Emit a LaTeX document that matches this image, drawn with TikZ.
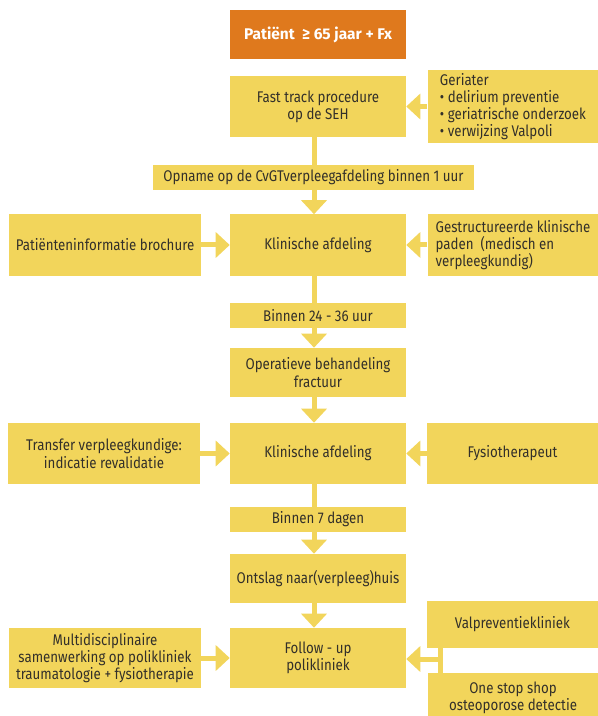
\documentclass[tikz,border=0pt]{standalone}
\usepackage{fontspec}
\setmainfont{Fira Sans}[FakeStretch=0.86]
\newfontfamily\headfont{Fira Sans}
\usetikzlibrary{arrows.meta}
\definecolor{boxyellow}{HTML}{F2D55B}
\definecolor{boxorange}{HTML}{DF791D}
\definecolor{ink}{HTML}{33302A}

\begin{document}
\begin{tikzpicture}[x=0.75pt, y=-0.75pt,
    box/.style={fill=boxyellow, text=ink, align=center, inner sep=0pt, font=\fontsize{11.6}{12.9}\selectfont},
    mainbox/.style={box, minimum width=132pt},
    leftbox/.style={box, minimum width=144pt},
    rightbox/.style={box, minimum width=128pt},
    flow/.style={boxyellow, line width=3.75pt},
    flowto/.style={flow, -{Triangle[width=18.75pt, length=10.5pt]}}]
    % Zorgpad heupfractuur bij ouderen
    \useasboundingbox (0,0) rectangle (598,716);
    \coordinate (spine) at (314,0);
    \node[mainbox, fill=boxorange, text=white, font=\headfont\bfseries\fontsize{11.6}{12.9}\selectfont, minimum height=36.75pt] (pat) at (318,34.5) {Patiënt\ \ ≥ 65 jaar + Fx};
    \node[mainbox, minimum height=45.75pt] (fast) at (318,106.5) {Fast track procedure\\op de SEH};
    \node[rightbox, align=left, minimum height=54.75pt] (ger) at (513,106.5) {Geriater\\• delirium preventie\\• geriatrische onderzoek\\• verwijzing Valpoli};
    \node[box, minimum width=240.75pt, minimum height=18.75pt] (opn) at (313.5,177.5) {Opname op de CvGTverpleegafdeling binnen 1 uur};
    \node[mainbox, minimum height=45.75pt] (kl1) at (318,245) {Klinische afdeling};
    \node[leftbox, minimum height=45.75pt] (info) at (105,245) {Patiënteninformatie brochure};
    \node[rightbox, align=left, minimum height=45.75pt] (gestr) at (513,245) {Gestructureerde klinische\\paden~ (medisch en\\verpleegkundig)};
    \node[mainbox, minimum height=18.75pt] (b24) at (318,315.5) {Binnen 24 - 36 uur};
    \node[mainbox, minimum height=36.75pt] (oper) at (318,372.5) {Operatieve behandeling\\fractuur};
    \node[mainbox, minimum height=45.75pt] (kl2) at (318,453.5) {Klinische afdeling};
    \node[leftbox, minimum height=45.75pt] (trans) at (104,453.5) {Transfer verpleegkundige:\\indicatie revalidatie};
    \node[rightbox, minimum height=45.75pt] (fys) at (512.5,453.5) {Fysiotherapeut};
    \node[mainbox, minimum height=18.75pt] (b7) at (318,519.5) {Binnen 7 dagen};
    \node[mainbox, minimum height=36.75pt] (ont) at (318,578.5) {Ontslag naar(verpleeg)huis};
    \node[mainbox, minimum height=45pt] (fol) at (318,658) {Follow - up\\polikliniek};
    \node[leftbox, minimum height=45pt] (multi) at (105,658) {Multidisciplinaire\\samenwerking op polikliniek\\traumatologie + fysiotherapie};
    \node[rightbox, minimum height=35.25pt] (valp) at (512.5,624.5) {Valpreventiekliniek};
    \node[rightbox, minimum height=36.75pt] (one) at (513,697.5) {One stop shop\\osteoporose detectie};
    % doorlopende lijn langs het zorgpad
    \draw[flow] (spine |- fast.south) -- (spine |- opn.north);
    \draw[flowto] (spine |- opn.south) -- (spine |- kl1.north);
    \draw[flow] (spine |- kl1.south) -- (spine |- b24.north);
    \draw[flowto] (spine |- b24.south) -- (spine |- oper.north);
    \draw[flowto] (spine |- oper.south) -- (spine |- kl2.north);
    \draw[flow] (spine |- kl2.south) -- (spine |- b7.north);
    \draw[flowto] (spine |- b7.south) -- (spine |- ont.north);
    \draw[flowto] (spine |- ont.south) -- (spine |- fol.north);
    % zijdelingse input
    \draw[flowto] (ger) -- (fast);
    \draw[flowto] (info) -- (kl1);
    \draw[flowto] (gestr) -- (kl1);
    \draw[flowto] (trans) -- (kl2);
    \draw[flowto] (fys) -- (kl2);
    \draw[flowto] (multi) -- (fol);
    \coordinate (join) at (440,659);
    \draw[flow] (join |- valp.south) -- (join |- one.north);
    \draw[flowto] (join) -- (join -| fol.east);
\end{tikzpicture}
\end{document}
